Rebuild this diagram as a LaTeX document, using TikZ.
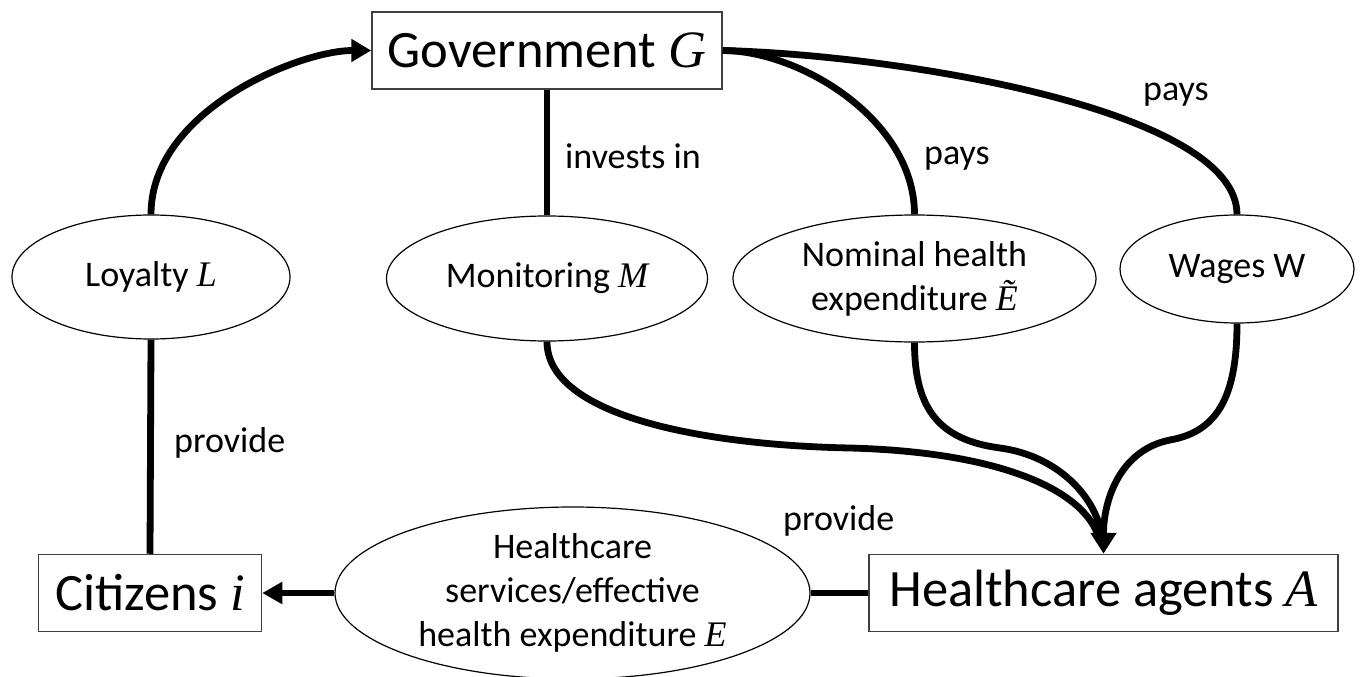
\documentclass[tikz,border=0pt]{standalone}
\usepackage{fontspec}
\setmainfont{Carlito}
\newfontfamily\varfnt{Liberation Serif}
\usetikzlibrary{arrows.meta,shapes.geometric}
\newcommand\mv[1]{{\varfnt\itshape #1}}
\begin{document}
\begin{tikzpicture}[x=1pt,y=-1pt,
 box/.style={draw=black!75, line width=1.5pt, rectangle, inner sep=0pt, font=\fontsize{52.5}{60}\selectfont},
 oval/.style={draw, line width=1.2pt, ellipse, inner sep=0pt, align=center, font=\fontsize{36}{44}\selectfont},
 conn/.style={line width=6.8pt},
 lbl/.style={font=\fontsize{36}{44}\selectfont, anchor=base west, inner sep=0pt},
 bigtip/.style={-{Triangle[length=21pt,width=25pt]}}
]
\useasboundingbox[fill=white] (0,0) rectangle (1361,677);

% boxes
\node[box, minimum width=350pt, minimum height=77pt] (gov) at (547,50.5) {Government \mv{G}};
\node[box, minimum width=469pt, minimum height=77pt] (agents) at (1103.5,593) {Healthcare agents \mv{A}};
\node[box, minimum width=223pt, minimum height=77pt] (cit) at (150,593) {Citizens \mv{i}};

% ellipses
\node[oval, minimum width=278pt, minimum height=124pt] (loy) at (151,277) {Loyalty \mv{L}};
\node[oval, minimum width=321pt, minimum height=125pt] (mon) at (547,278.5) {Monitoring \mv{M}};
\node[oval, minimum width=363pt, minimum height=127pt] (nom) at (914.5,278.5) {Nominal health\\expenditure \mv{Ẽ}};
\node[oval, minimum width=234pt, minimum height=108pt] (wag) at (1237,269) {Wages W};
\node[oval, minimum width=475pt, minimum height=172pt] (hce) at (572.5,593) {Healthcare\\services/effective\\health expenditure \mv{E}};

% connectors
\draw[conn, -{Triangle[length=20pt,width=22pt]}] (loy.north) .. controls (151,110) and (300,50.5) .. (gov.west);
\draw[conn] (gov.south) -- (mon.north);
\draw[conn] (gov.east) .. controls (800,50.5) and (914.5,120) .. (nom.north);
\draw[conn] (gov.east) .. controls (900,55) and (1237,110) .. (wag.north);
\draw[conn] (loy.south) -- (cit.north);
\draw[conn, -{Triangle[length=20pt,width=21pt]}] (hce.west) -- (cit.east);
\draw[conn] (hce.east) -- (agents.west);

\draw[conn, shorten >=16pt] (mon.south) .. controls (547,415) and (700,445) .. (850,448) .. controls (1000,452) and (1085,490) .. (agents.north);
\draw[conn, shorten >=16pt] (nom.south) .. controls (914.5,410) and (940,440) .. (1000,448) .. controls (1060,456) and (1098,500) .. (agents.north);
\draw[conn, bigtip] (wag.south) .. controls (1237,400) and (1215,432) .. (1170,440) .. controls (1120,450) and (1103.5,500) .. (agents.north);

% labels
\node[lbl] (l1) at (565,168) {invests in};
\node[lbl] (l2) at (924,164) {pays};
\node[lbl] (l3) at (1143,100) {pays};
\node[lbl] (l4) at (174,452) {provide};
\node[lbl] (l5) at (783,530) {provide};
\end{tikzpicture}
\end{document}
